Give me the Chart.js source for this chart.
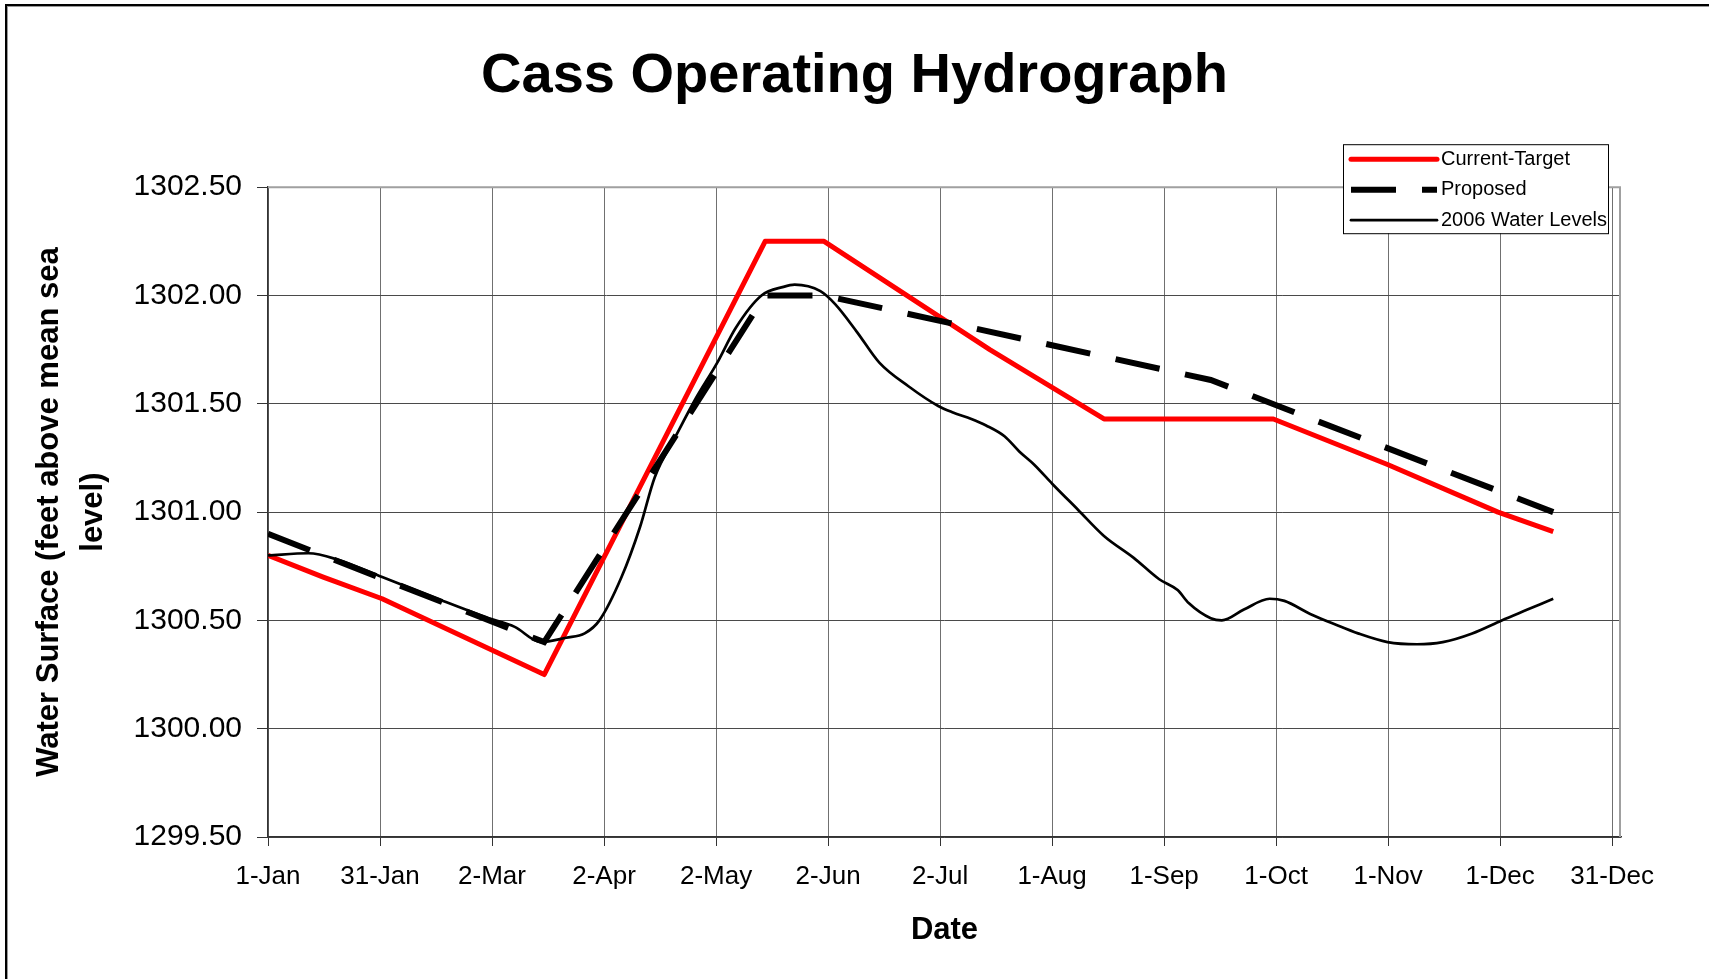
<!DOCTYPE html>
<html>
<head>
<meta charset="utf-8">
<title>Cass Operating Hydrograph</title>
<script src="https://cdn.jsdelivr.net/npm/chart.js@4.4.1/dist/chart.umd.min.js"></script>
<style>
  html, body { margin: 0; padding: 0; background: #fff; overflow: hidden; }
  #wrap { position: relative; width: 1709px; height: 979px; }
  #frame {
    position: absolute; left: 5px; top: 4px; width: 1800px; height: 1100px;
    border-left: 2px solid #000; border-top: 2px solid #000;
    box-shadow: inset 1px 1px 0 #999; pointer-events: none;
  }
</style>
</head>
<body>
<div id="wrap">
  <canvas id="hydrograph" width="1709" height="979"></canvas>
  <div id="frame"></div>
</div>
<script>
// x values are day of year (0 = 1-Jan)
const tickLabels = ['1-Jan', '31-Jan', '2-Mar', '2-Apr', '2-May', '2-Jun', '2-Jul',
  '1-Aug', '1-Sep', '1-Oct', '1-Nov', '1-Dec', '31-Dec'];

const targetDays = [0, 15, 31, 75, 135, 151, 196, 227, 273, 304, 334, 349];
const targetLevels = [1300.80, 1300.70, 1300.60, 1300.25, 1302.25, 1302.25,
  1301.75, 1301.43, 1301.43, 1301.22, 1301.00, 1300.91];

const proposedDays = [0, 75, 135, 151, 256, 349];
const proposedLevels = [1300.90, 1300.40, 1302.00, 1302.00, 1301.61, 1301.00];

const levelDays = [0, 11, 19, 31, 46, 60, 67, 74, 81, 86, 90, 96, 101, 105, 111, 116,
  122, 127, 134, 140, 143, 150, 154, 160, 166, 174, 182, 186, 191, 195, 200, 204,
  208, 213, 220, 227, 235, 242, 247, 250, 256, 259, 265, 272, 276, 283, 290, 296,
  304, 312, 319, 327, 335, 342, 349];
const levels2006 = [1300.80, 1300.81, 1300.78, 1300.70, 1300.60, 1300.51, 1300.47,
  1300.40, 1300.42, 1300.44, 1300.50, 1300.70, 1300.93, 1301.16, 1301.36, 1301.52,
  1301.69, 1301.85, 1302.00, 1302.04, 1302.05, 1302.02, 1301.96, 1301.83, 1301.69,
  1301.58, 1301.49, 1301.46, 1301.43, 1301.40, 1301.35, 1301.28, 1301.22, 1301.13,
  1301.01, 1300.89, 1300.79, 1300.69, 1300.64, 1300.58, 1300.51, 1300.50, 1300.55,
  1300.60, 1300.59, 1300.53, 1300.48, 1300.44, 1300.40, 1300.39, 1300.40, 1300.44,
  1300.50, 1300.55, 1300.60];

const toPoints = (days, vals) => days.map((d, i) => ({ x: d, y: vals[i] }));

Chart.defaults.font.family = "'Liberation Sans', Arial, sans-serif";
Chart.defaults.color = '#000';

// gray frame on the top and right of the plot area
const plotFrame = {
  id: 'plotFrame',
  beforeDatasetsDraw(chart) {
    const { ctx, chartArea: a } = chart;
    ctx.save();
    ctx.strokeStyle = '#a0a0a0';
    ctx.lineWidth = 2;
    ctx.beginPath();
    ctx.moveTo(a.left, a.top);
    ctx.lineTo(a.right - 1, a.top);
    ctx.lineTo(a.right - 1, a.bottom);
    ctx.stroke();
    ctx.restore();
  }
};

// Excel-style boxed legend in the top right corner
const boxLegend = {
  id: 'boxLegend',
  afterDraw(chart) {
    const { ctx, chartArea: a } = chart;
    const left = a.right - 278, top = a.top - 43, w = 265, h = 89;
    ctx.save();
    ctx.fillStyle = '#fff';
    ctx.fillRect(left, top, w, h);
    ctx.strokeStyle = '#000';
    ctx.lineWidth = 1;
    ctx.strokeRect(left + 0.5, top + 0.5, w, h);
    ctx.font = "20px 'Liberation Sans', Arial, sans-serif";
    ctx.textBaseline = 'middle';
    chart.data.datasets.forEach((ds, i) => {
      const y = top + 15 + i * 30.5;
      ctx.beginPath();
      ctx.setLineDash(ds.borderDash || []);
      ctx.lineCap = ds.borderDash ? 'butt' : 'round';
      ctx.lineWidth = ds.borderWidth;
      ctx.strokeStyle = ds.borderColor;
      ctx.moveTo(left + 8, y);
      ctx.lineTo(left + 94, y);
      ctx.stroke();
      ctx.setLineDash([]);
      ctx.fillStyle = '#000';
      ctx.fillText(ds.label, left + 98, y);
    });
    ctx.restore();
  }
};

new Chart(document.getElementById('hydrograph'), {
  type: 'line',
  data: {
    datasets: [
      {
        label: 'Current-Target', data: toPoints(targetDays, targetLevels),
        borderColor: '#ff0000', borderWidth: 5, pointRadius: 0, tension: 0, order: 3,
        borderJoinStyle: 'round'
      },
      {
        label: 'Proposed', data: toPoints(proposedDays, proposedLevels),
        borderColor: '#000', borderWidth: 6, borderDash: [45, 26], pointRadius: 0,
        tension: 0, order: 2
      },
      {
        label: '2006 Water Levels', data: toPoints(levelDays, levels2006),
        borderColor: '#000', borderWidth: 2.7, pointRadius: 0,
        cubicInterpolationMode: 'monotone', order: 1
      }
    ]
  },
  options: {
    responsive: false,
    animation: false,
    events: [],
    layout: { padding: { top: 0, left: 0, right: 0, bottom: 30 } },
    plugins: {
      legend: { display: false },
      tooltip: { enabled: false },
      title: {
        display: true,
        text: 'Cass Operating Hydrograph',
        font: { size: 56, weight: 'bold', lineHeight: 1.2 },
        padding: { top: 43, bottom: 77 }
      }
    },
    scales: {
      x: {
        type: 'linear',
        min: 0,
        max: 367.4,
        afterBuildTicks: axis => {
          axis.ticks = tickLabels.map((_, i) => ({ value: i * 365 / 12 }));
        },
        ticks: {
          autoSkip: false, maxRotation: 0, padding: 15,
          font: { size: 26, lineHeight: 1.2 },
          callback: (v, i) => tickLabels[i]
        },
        grid: { color: '#707070', lineWidth: 1, tickLength: 9, tickColor: '#333' },
        border: { color: '#333', width: 1.5 },
        title: {
          display: true, text: 'Date',
          font: { size: 31, weight: 'bold', lineHeight: 1.2 },
          padding: { top: 20, bottom: 0 }
        },
        afterFit: scale => { scale.height = 112; }
      },
      y: {
        min: 1299.5,
        max: 1302.5,
        ticks: {
          stepSize: 0.5, padding: 15,
          font: { size: 30, lineHeight: 1.2 },
          callback: v => v.toFixed(2)
        },
        grid: { color: '#4a4a4a', lineWidth: 1, tickLength: 11, tickColor: '#333' },
        border: { color: '#333', width: 1.5 },
        title: {
          display: true, text: ['Water Surface (feet above mean sea', 'level)'],
          font: { size: 31, weight: 'bold', lineHeight: 1.42 },
          padding: { top: 27, bottom: 0 }
        },
        afterFit: scale => { scale.width = 268; }
      },
      // empty right axis, only reserves the margin right of the plot
      y2: {
        position: 'right',
        display: true,
        ticks: { display: false },
        grid: { display: false, drawTicks: false },
        border: { display: false },
        afterFit: scale => { scale.width = 88; }
      }
    }
  },
  plugins: [plotFrame, boxLegend]
});
</script>
</body>
</html>
